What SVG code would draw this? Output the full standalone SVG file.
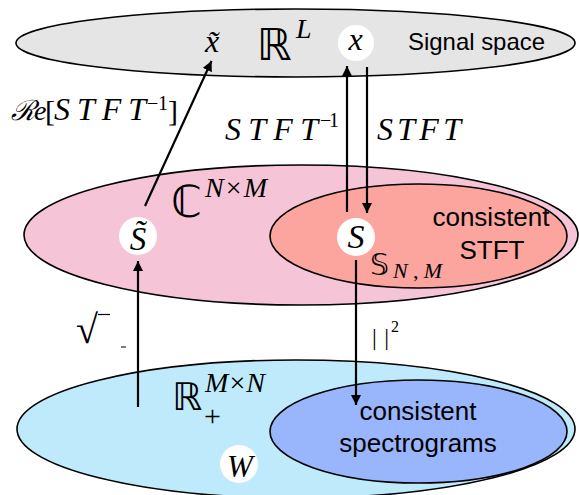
<svg xmlns="http://www.w3.org/2000/svg" width="579" height="495" viewBox="0 0 579 495">
<defs>
<style>
.set{stroke:#000;stroke-width:1.6}
.conn{stroke:#000;stroke-width:2.2;fill:none}
.dot{fill:#fff}
.m{font-family:"Liberation Serif","DejaVu Serif",serif;font-style:italic;fill:#000}
.mr{font-family:"Liberation Serif","DejaVu Serif",serif;fill:#000}
.bb{font-family:"DejaVu Sans","DejaVu Serif",sans-serif;fill:#000}
.lbl{font-family:"Liberation Sans","Lato",sans-serif;fill:#000}
</style>
<marker id="ah" viewBox="0 0 10 10" refX="10" refY="5" markerWidth="10" markerHeight="10" markerUnits="userSpaceOnUse" orient="auto">
<path d="M0,0 L10,5 L0,10 z" fill="#000"/>
</marker>
</defs>

<g id="signal-space">
<ellipse class="set" cx="295.5" cy="43" rx="279.5" ry="34" fill="#e5e5e5"/>
<text class="lbl" x="408" y="50" font-size="24" textLength="137" lengthAdjust="spacingAndGlyphs">Signal space</text>
<text class="bb" x="257" y="60" font-size="44">ℝ</text>
<text class="m" x="296" y="38" font-size="28">L</text>
</g>

<g id="complex-space">
<ellipse class="set" cx="301" cy="235" rx="277" ry="70" fill="#f5c4d7"/>
<text class="bb" x="171" y="217" font-size="44">ℂ</text>
<text class="m" x="205" y="197" font-size="28" textLength="62" lengthAdjust="spacing">N<tspan font-style="normal">×</tspan>M</text>
</g>

<g id="consistent-stft">
<ellipse class="set" cx="418.5" cy="236" rx="148.5" ry="52" fill="#fca59f"/>
<text class="lbl" x="491" y="226" font-size="26" text-anchor="middle">consistent</text>
<text class="lbl" x="492" y="259" font-size="26" text-anchor="middle">STFT</text>
<text class="bb" x="370" y="275" font-size="30">𝕊</text>
<text class="m" x="393" y="278" font-size="22" textLength="49" lengthAdjust="spacing">N<tspan font-style="normal">,</tspan>M</text>
</g>

<g id="spectrogram-space">
<ellipse class="set" cx="296" cy="429" rx="279" ry="69" fill="#bfeafb"/>
<text class="bb" x="172" y="410" font-size="38">ℝ</text>
<text class="m" x="205" y="392" font-size="28" textLength="60" lengthAdjust="spacing">M<tspan font-style="normal">×</tspan>N</text>
<text class="mr" x="204" y="426" font-size="30">+</text>
</g>

<g id="consistent-spectrograms">
<ellipse class="set" cx="418.5" cy="431.5" rx="148.5" ry="51.5" fill="#99b5fc"/>
<text class="lbl" x="418" y="420" font-size="26" text-anchor="middle">consistent</text>
<text class="lbl" x="418" y="452" font-size="26" text-anchor="middle">spectrograms</text>
</g>

<g id="connectors">
<line class="conn" x1="145" y1="206" x2="211.5" y2="61" marker-end="url(#ah)"/>
<line class="conn" x1="347" y1="212" x2="347" y2="66" marker-end="url(#ah)"/>
<line class="conn" x1="367" y1="67" x2="367" y2="213" marker-end="url(#ah)"/>
<line class="conn" x1="138" y1="407" x2="138" y2="261" marker-end="url(#ah)"/>
<line class="conn" x1="356" y1="260" x2="356" y2="405" marker-end="url(#ah)"/>
</g>

<g id="node-xtilde">
<text class="m" x="212" y="52" font-size="32" text-anchor="middle">x̃</text>
</g>

<g id="node-x">
<circle class="dot" cx="356" cy="43" r="18"/>
<text class="m" x="355.5" y="50" font-size="32" text-anchor="middle">x</text>
</g>

<g id="node-stilde">
<circle class="dot" cx="138" cy="236" r="19"/>
<text class="m" x="138" y="250" font-size="33" text-anchor="middle">S̃</text>
</g>

<g id="node-s">
<circle class="dot" cx="356" cy="237" r="19"/>
<text class="m" x="356" y="248" font-size="34" text-anchor="middle">S</text>
</g>

<g id="node-w">
<circle class="dot" cx="239" cy="464" r="19"/>
<text class="m" x="240" y="477" font-size="31" text-anchor="middle">W</text>
</g>

<g id="labels">
<text x="11" y="120" font-size="28" class="m" font-family="DejaVu Serif">ℛ</text>
<text class="m" x="34" y="120" font-size="28">e</text>
<text class="mr" x="45" y="121" font-size="30">[</text>
<text class="m" x="54" y="120" font-size="32" textLength="92" lengthAdjust="spacing">STFT</text>
<text class="mr" x="147" y="110" font-size="20" textLength="21" lengthAdjust="spacing">−1</text>
<text class="mr" x="168" y="121" font-size="30">]</text>

<text class="m" x="225" y="140" font-size="32" textLength="93" lengthAdjust="spacing">STFT</text>
<text class="mr" x="320" y="127" font-size="20" textLength="19" lengthAdjust="spacing">−1</text>

<text class="m" x="377" y="140" font-size="32" textLength="84" lengthAdjust="spacing">STFT</text>

<text class="mr" x="372" y="345" font-size="24" textLength="17" lengthAdjust="spacing">| |</text>
<text class="mr" x="391" y="332" font-size="16">2</text>

<text class="mr" x="76" y="343" font-size="40">√</text>
<line x1="98" y1="314.5" x2="110" y2="314.5" stroke="#000" stroke-width="1.2"/>
<line x1="121" y1="347" x2="126" y2="347" stroke="#000" stroke-width="1"/>
</g>
</svg>
